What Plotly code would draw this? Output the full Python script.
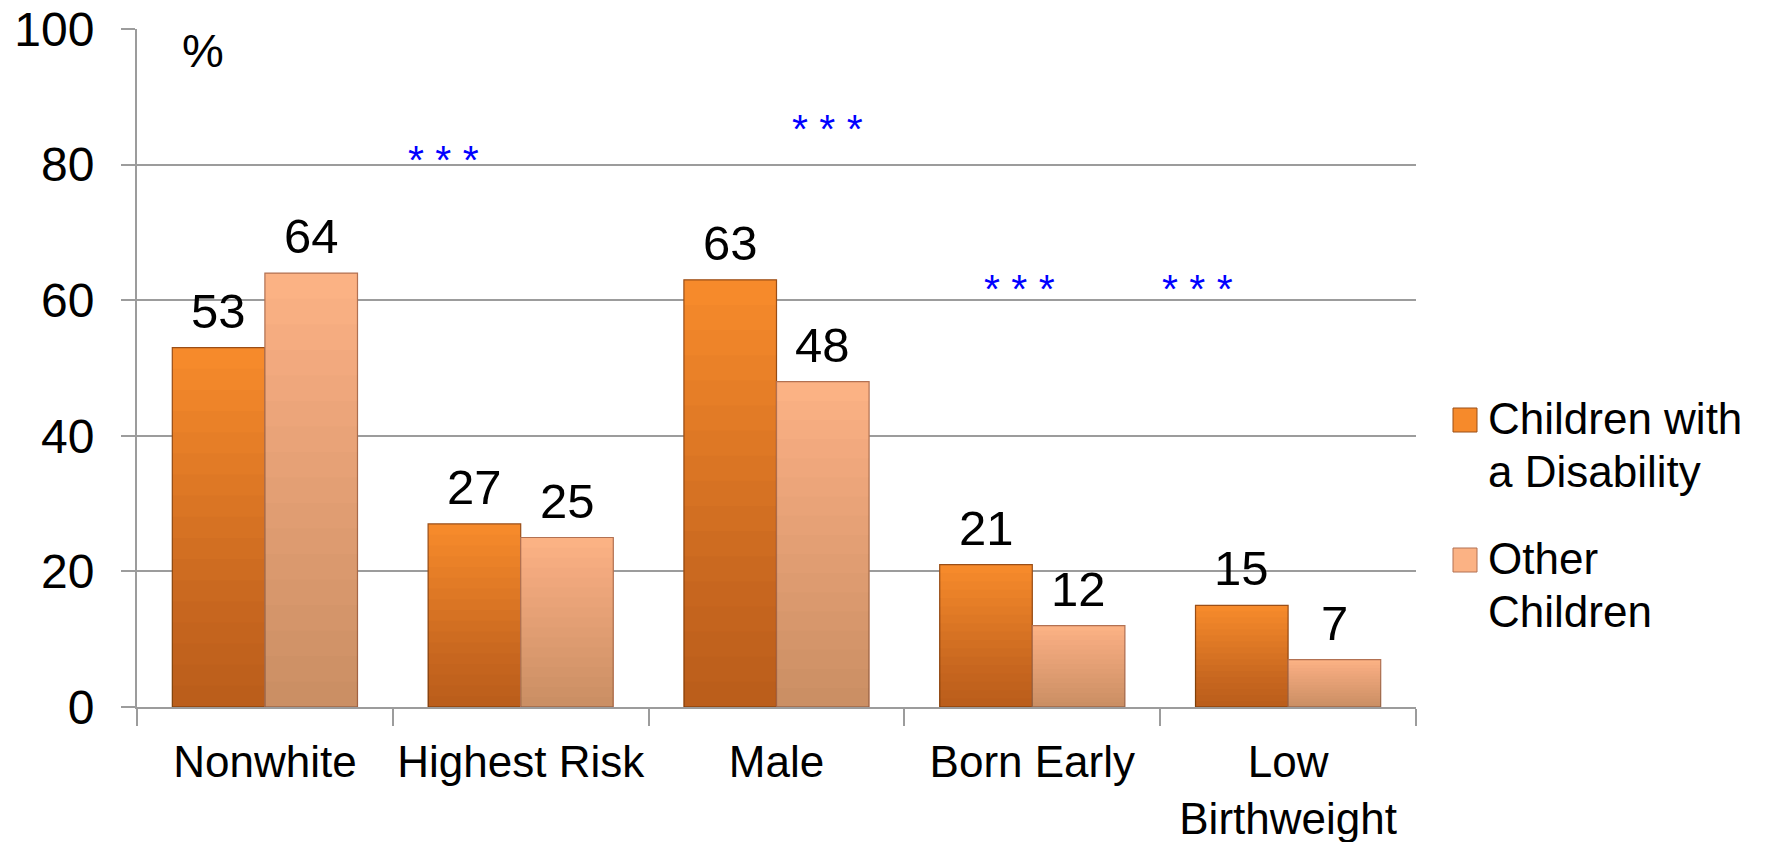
import plotly.graph_objects as go

# Share of children with each characteristic, by disability status (%)
categories = ["Nonwhite", "Highest Risk", "Male", "Born Early", "Low<br>Birthweight"]
disability = [53, 27, 63, 21, 15]
other = [64, 25, 48, 12, 7]
series_names = ["Children with<br>a Disability", "Other<br>Children"]

# Significance markers: category index and height (in % units) of each "***"
sig_text = "* * *"
sig_index = [1, 2, 3, 4]
sig_height = [80.7, 85.3, 61.7, 61.7]
sig_offset = [-0.302, 0.20, -0.05, -0.355]

y_ticks = [0, 20, 40, 60, 80, 100]

W, H = 1768, 842
M_L, M_R, M_T, M_B = 137, 352, 29, 135
BARGAP = 0.276
SHADE_STEPS = 16

C_DIS = "#F68A2B"
C_DIS_EDGE = "#9A4E17"
C_OTH = "#FBB284"
C_OTH_EDGE = "#B27152"
GRID = "#9C9C9C"
LABEL_FONT = "Liberation Sans, Arial, sans-serif"

fig = go.Figure()


def add_shaded_bars(values, name, color, edge, group, shade_alpha):
    """Bar series with a vertical light-to-dark shading built from stacked translucent overlays."""
    fig.add_trace(go.Bar(x=categories, y=values, name=name, offsetgroup=group,
                         marker=dict(color=color, line=dict(color=edge, width=1.2))))
    for k in range(1, SHADE_STEPS + 1):
        frac = k / (SHADE_STEPS + 1)
        fig.add_trace(go.Bar(x=categories, y=[v * frac for v in values], offsetgroup=group,
                             marker=dict(color=f"rgba(40,10,0,{shade_alpha})", line=dict(width=0)),
                             hoverinfo="skip", showlegend=False))


add_shaded_bars(disability, series_names[0], C_DIS, C_DIS_EDGE, "dis", 0.018)
add_shaded_bars(other, series_names[1], C_OTH, C_OTH_EDGE, "oth", 0.0124)

annotations = []
# value labels above each bar
half = (1 - BARGAP) / 4
for i, (a, b) in enumerate(zip(disability, other)):
    for val, dx in ((a, -half), (b, half)):
        annotations.append(dict(x=i + dx, y=val, xref="x", yref="y", text=str(val),
                                showarrow=False, yanchor="bottom", yshift=8,
                                font=dict(size=49, color="black", family=LABEL_FONT)))

# significance stars
for idx, hgt, off in zip(sig_index, sig_height, sig_offset):
    annotations.append(dict(x=idx + off, y=hgt, xref="x", yref="y", text=sig_text,
                            showarrow=False, yanchor="middle",
                            font=dict(size=41, color="#0000FF", family=LABEL_FONT)))

# unit label
annotations.append(dict(x=0.0516, y=0.969, xref="paper", yref="paper", text="%",
                        showarrow=False, xanchor="center", yanchor="middle",
                        font=dict(size=47, color="black", family=LABEL_FONT)))

# legend drawn with shapes + text so the swatches and line spacing can be set freely
plot_w = W - M_L - M_R
plot_h = H - M_T - M_B


def px_x(px):
    return (px - M_L) / plot_w


def px_y(py):
    return (H - M_B - py) / plot_h


shapes = []
legend_rows = [(420, 418, C_DIS, C_DIS_EDGE), (560, 558, C_OTH, C_OTH_EDGE)]
LINE_STEP = 53
for name, (sw_c, txt_top, fill, edge) in zip(series_names, legend_rows):
    shapes.append(dict(type="rect", xref="paper", yref="paper",
                       x0=px_x(1453), x1=px_x(1477), y0=px_y(sw_c + 12), y1=px_y(sw_c - 12),
                       fillcolor=fill, line=dict(color=edge, width=1)))
    for j, line in enumerate(name.split("<br>")):
        annotations.append(dict(x=px_x(1486), y=px_y(txt_top + j * LINE_STEP),
                                xref="paper", yref="paper",
                                text=line, showarrow=False, xanchor="left", yanchor="middle",
                                font=dict(size=44, color="black", family=LABEL_FONT)))

fig.update_layout(
    width=W, height=H,
    margin=dict(l=M_L, r=M_R, t=M_T, b=M_B, autoexpand=False),
    paper_bgcolor="white", plot_bgcolor="white",
    barmode="group", bargap=BARGAP, bargroupgap=0,
    showlegend=False,
    annotations=annotations,
    shapes=shapes,
    font=dict(family=LABEL_FONT, color="black"),
)
fig.update_xaxes(
    automargin=False, tickangle=0,
    showline=True, linecolor=GRID, linewidth=2,
    ticks="outside", ticklen=17, tickcolor=GRID, tickwidth=2,
    tickson="boundaries", ticklabelstandoff=15,
    tickfont=dict(size=44, color="black", family=LABEL_FONT),
    showgrid=False,
)
fig.update_yaxes(
    automargin=False,
    range=[0, 100], tickvals=y_ticks,
    showline=True, linecolor=GRID, linewidth=2,
    showgrid=True, gridcolor=GRID, gridwidth=2,
    ticks="outside", ticklen=14, tickcolor=GRID, tickwidth=2,
    ticklabelstandoff=17,
    tickfont=dict(size=48, color="black", family=LABEL_FONT),
    zeroline=False,
)

fig.write_html("out.html")
